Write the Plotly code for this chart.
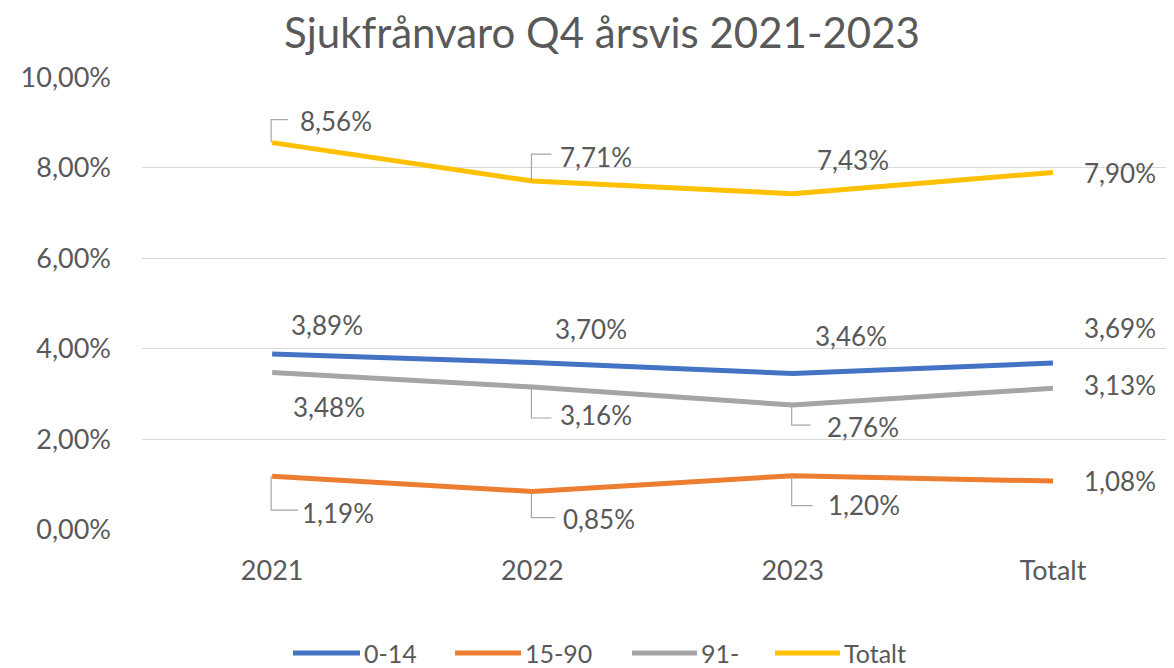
import plotly.graph_objects as go

categories = ["2021", "2022", "2023", "Totalt"]
s_0_14 = [3.89, 3.70, 3.46, 3.69]
s_15_90 = [1.19, 0.85, 1.20, 1.08]
s_91 = [3.48, 3.16, 2.76, 3.13]
s_totalt = [8.56, 7.71, 7.43, 7.90]
series_names = ["0-14", "15-90", "91-", "Totalt"]
y_ticks = [0, 2, 4, 6, 8, 10]

colors = ["#4472C4", "#ED7D31", "#A5A5A5", "#FFC000"]
series = [s_0_14, s_15_90, s_91, s_totalt]
FONT = "Lato, 'Open Sans', sans-serif"
TXT = "#595959"

# page body has an 8px margin; work in screen coordinates and compensate
OFF = 8
SW, SH = 1174, 668
W, H = SW - OFF, SH - OFF
PL, PR, PT, PB = 142, 1174, 77, 530  # plot area in screen pixels
PW, PH = PR - PL, PB - PT
ML, MR, MT, MB = PL - OFF, SW - PR, PT - OFF, SH - PB


def fmt(v):
    return f"{v:.2f}".replace(".", ",") + "%"


fig = go.Figure()
for name, vals, col in zip(series_names, series, colors):
    fig.add_trace(go.Scatter(x=list(range(len(categories))), y=vals, name=name, mode="lines",
                             line=dict(color=col, width=5), hoverinfo="skip", showlegend=False))

# label placements: (xshift, yshift, leader(dy, dx)) in pixels relative to the point
placements = {
    "0-14": [(55, 29, None), (59, 34, None), (58, 37, None), (67, 35, None)],
    "15-90": [(66, -37, (-34, 26)), (67, -27, (-26, 23)), (71, -29, (-30, 20)), (67, 0, None)],
    "91-": [(57, -34, None), (64, -28, (-31, 19)), (70, -22, (-20, 18)), (67, 3, None)],
    "Totalt": [(64, 22, (23, 16)), (64, 24, (27, 19)), (60, 34, None), (67, -1, None)],
}

for name, vals in zip(series_names, series):
    for i, v in enumerate(vals):
        xs, ys, leader = placements[name][i]
        fig.add_annotation(x=i, y=v, xref="x", yref="y", text=fmt(v), showarrow=False,
                           xshift=xs, yshift=ys, font=dict(family=FONT, size=26, color=TXT))
        if leader is not None:
            dy, dx = leader
            fig.add_shape(type="path", xref="x", yref="y", xsizemode="pixel", ysizemode="pixel",
                          xanchor=i, yanchor=v,
                          path=f"M -1 0 L -1 {dy} L {dx} {dy}",
                          line=dict(color="#A6A6A6", width=1.2))

# custom legend (long line symbols as in the original), screen pixel positions
legend_pos = [(293, 360), (455, 521), (632, 697), (775, 840)]
legend_y = 653
ly = (PB - legend_y) / PH
for (x0, x1), name, col in zip(legend_pos, series_names, colors):
    fig.add_shape(type="line", xref="paper", yref="paper",
                  x0=(x0 - PL) / PW, x1=(x1 - PL) / PW, y0=ly, y1=ly,
                  line=dict(color=col, width=5))
    fig.add_annotation(xref="paper", yref="paper", x=(x1 + 2 - PL) / PW, y=ly,
                       xanchor="left", yanchor="middle", text=name, showarrow=False,
                       font=dict(family=FONT, size=25, color=TXT))

fig.update_layout(
    width=W, height=H,
    margin=dict(l=ML, r=MR, t=MT, b=MB, autoexpand=False),
    paper_bgcolor="white", plot_bgcolor="white",
    showlegend=False,
    title=dict(text="Sjukfrånvaro Q4 årsvis 2021-2023", x=(602 - OFF) / W, xref="container", xanchor="center",
               y=1 - (33 - OFF) / H, yref="container", yanchor="middle",
               font=dict(family=FONT, size=42, color=TXT)),
    xaxis=dict(range=[-0.5, 3.465], tickmode="array", tickvals=list(range(len(categories))), ticktext=categories,
               showgrid=False, zeroline=False, showline=False, ticks="", ticklabelstandoff=22,
               tickfont=dict(family=FONT, size=27, color=TXT)),
    yaxis=dict(range=[0, 10.01], tickmode="array", tickvals=y_ticks, ticktext=[fmt(t) for t in y_ticks],
               showgrid=True, gridcolor="#D9D9D9", gridwidth=1.3, zeroline=False, showline=False,
               ticks="", ticklabelstandoff=30,
               tickfont=dict(family=FONT, size=27, color=TXT)),
)

fig.write_html("out.html")
